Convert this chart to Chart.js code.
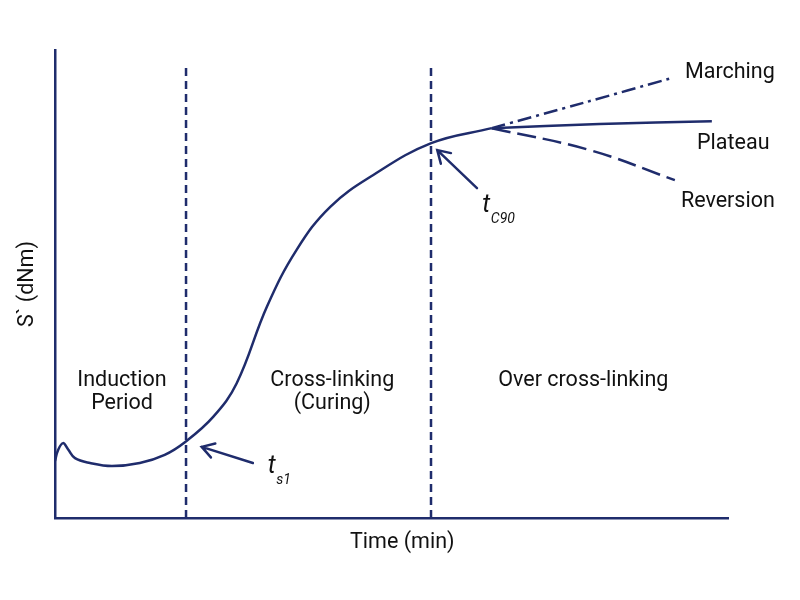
<!DOCTYPE html>
<html>
<head>
<meta charset="utf-8">
<script src="https://cdn.jsdelivr.net/npm/chart.js@4/dist/chart.umd.min.js"></script>
<style>
html,body{margin:0;padding:0;background:#fff;}
#wrap{width:800px;height:600px;}
</style>
</head>
<body>
<div id="wrap"><canvas id="c" width="800" height="600"></canvas></div>
<script>
// Main cure curve (time, torque) in arbitrary units
const curveTime   = [0, 0.45, 1.19, 1.93, 2.97, 5.2, 8.47, 12.6, 16.3, 19.3, 23.5, 27.0, 31.5, 35.9, 40.9, 47.3, 55.9, 64.9];
const curveTorque = [12.2, 14.5, 16.0, 14.7, 12.8, 11.75, 11.1, 11.75, 13.5, 16.2, 21.6, 28.8, 45.2, 57.3, 66.5, 73.3, 80.1, 83.3];

// Branches after cure
const marchingTime    = [64.9, 78.5, 91.6];
const marchingTorque  = [83.3, 88.7, 94.0];
const plateauTime     = [64.9, 80.9, 97.6];
const plateauTorque   = [83.3, 84.2, 84.8];
const reversionTime   = [64.9, 79.5, 92.1];
const reversionTorque = [83.3, 78.6, 72.2];

// Characteristic times (vertical markers)
const markerTimes = [19.47, 55.87];
const markerTop = 96.15;

const navy = '#1f2c6c';
const FONT = 21.5;
const pts = (xs, ys) => xs.map((x, i) => ({x, y: ys[i]}));

const annot = {
  id: 'annot',
  afterDatasetsDraw(chart) {
    const {ctx, scales: {x, y}} = chart;
    const X = v => x.getPixelForValue(v), Y = v => y.getPixelForValue(v);
    ctx.save();
    ctx.fillStyle = '#111';
    ctx.font = FONT + 'px Roboto';
    ctx.textBaseline = 'middle';
    ctx.textAlign = 'center';
    // x-axis title
    ctx.fillText('Time (min)', X(51.6), Y(0) + 25);
    const regions = [
      {t: ['Induction', 'Period'], x: 9.96},
      {t: ['Cross-linking', '(Curing)'], x: 41.2},
      {t: ['Over cross-linking'], x: 78.5}
    ];
    regions.forEach(r => r.t.forEach((s, i) => ctx.fillText(s, X(r.x), Y(29.3) + i * 22.5)));
    ctx.textAlign = 'left';
    [['Marching', 93.6, 95.1], ['Plateau', 95.4, 80.1], ['Reversion', 93.0, 67.5]]
      .forEach(([s, a, b]) => ctx.fillText(s, X(a), Y(b)));
    // t labels
    ctx.textBaseline = 'alphabetic';
    const tl = (sub, a, b) => {
      ctx.font = 'italic 25px Roboto';
      ctx.fillText('t', X(a), Y(b));
      ctx.font = 'italic 14px Roboto';
      ctx.fillText(sub, X(a) + 8.5, Y(b) + 11);
    };
    tl('s1', 31.6, 9.6);
    tl('C90', 63.5, 65.4);
    // arrows
    ctx.strokeStyle = navy;
    ctx.lineWidth = 2.5;
    ctx.lineCap = 'round';
    const arrow = (x1, y1, x2, y2) => {
      const ax = X(x1), ay = Y(y1), bx = X(x2), by = Y(y2);
      const ang = Math.atan2(by - ay, bx - ax);
      const L = 14, w = 0.55;
      ctx.beginPath();
      ctx.moveTo(ax, ay); ctx.lineTo(bx, by);
      ctx.moveTo(bx - L * Math.cos(ang - w), by - L * Math.sin(ang - w));
      ctx.lineTo(bx, by);
      ctx.lineTo(bx - L * Math.cos(ang + w), by - L * Math.sin(ang + w));
      ctx.stroke();
    };
    arrow(29.4, 11.75, 21.8, 15.2);
    arrow(62.7, 70.5, 56.8, 78.6);
    ctx.restore();
  }
};

const base = {borderColor: navy, borderWidth: 2.5, pointRadius: 0, fill: false};

new Chart(document.getElementById('c'), {
  type: 'line',
  data: {
    datasets: [
      {...base, label: 'Cure', data: pts(curveTime, curveTorque), tension: 0.4},
      {...base, label: 'Marching', data: pts(marchingTime, marchingTorque), borderDash: [14, 5, 3, 5], tension: 0.3},
      {...base, label: 'Plateau', data: pts(plateauTime, plateauTorque), tension: 0.4},
      {...base, label: 'Reversion', data: pts(reversionTime, reversionTorque), borderDash: [19, 7], tension: 0.4},
      ...markerTimes.map(t => ({...base, label: 'marker', data: [{x: t, y: 0}, {x: t, y: markerTop}], borderDash: [8, 5], borderCapStyle: 'butt'}))
    ]
  },
  options: {
    responsive: false,
    animation: false,
    layout: {padding: {left: 15.1, right: 72, top: 50, bottom: 82}},
    plugins: {legend: {display: false}, tooltip: {enabled: false}},
    scales: {
      x: {
        type: 'linear', min: 0, max: 100,
        ticks: {display: false},
        grid: {display: false, drawTicks: false},
        border: {display: true, color: navy, width: 2.5},
        title: {display: false}
      },
      y: {
        type: 'linear', min: 0, max: 100,
        ticks: {display: false},
        grid: {display: false, drawTicks: false},
        border: {display: true, color: navy, width: 2.5},
        title: {display: true, text: 'S` (dNm)', color: '#111', font: {family: 'Roboto', size: FONT}, padding: {top: 0, bottom: 14.1}}
      }
    }
  },
  plugins: [annot]
});
</script>
</body>
</html>
